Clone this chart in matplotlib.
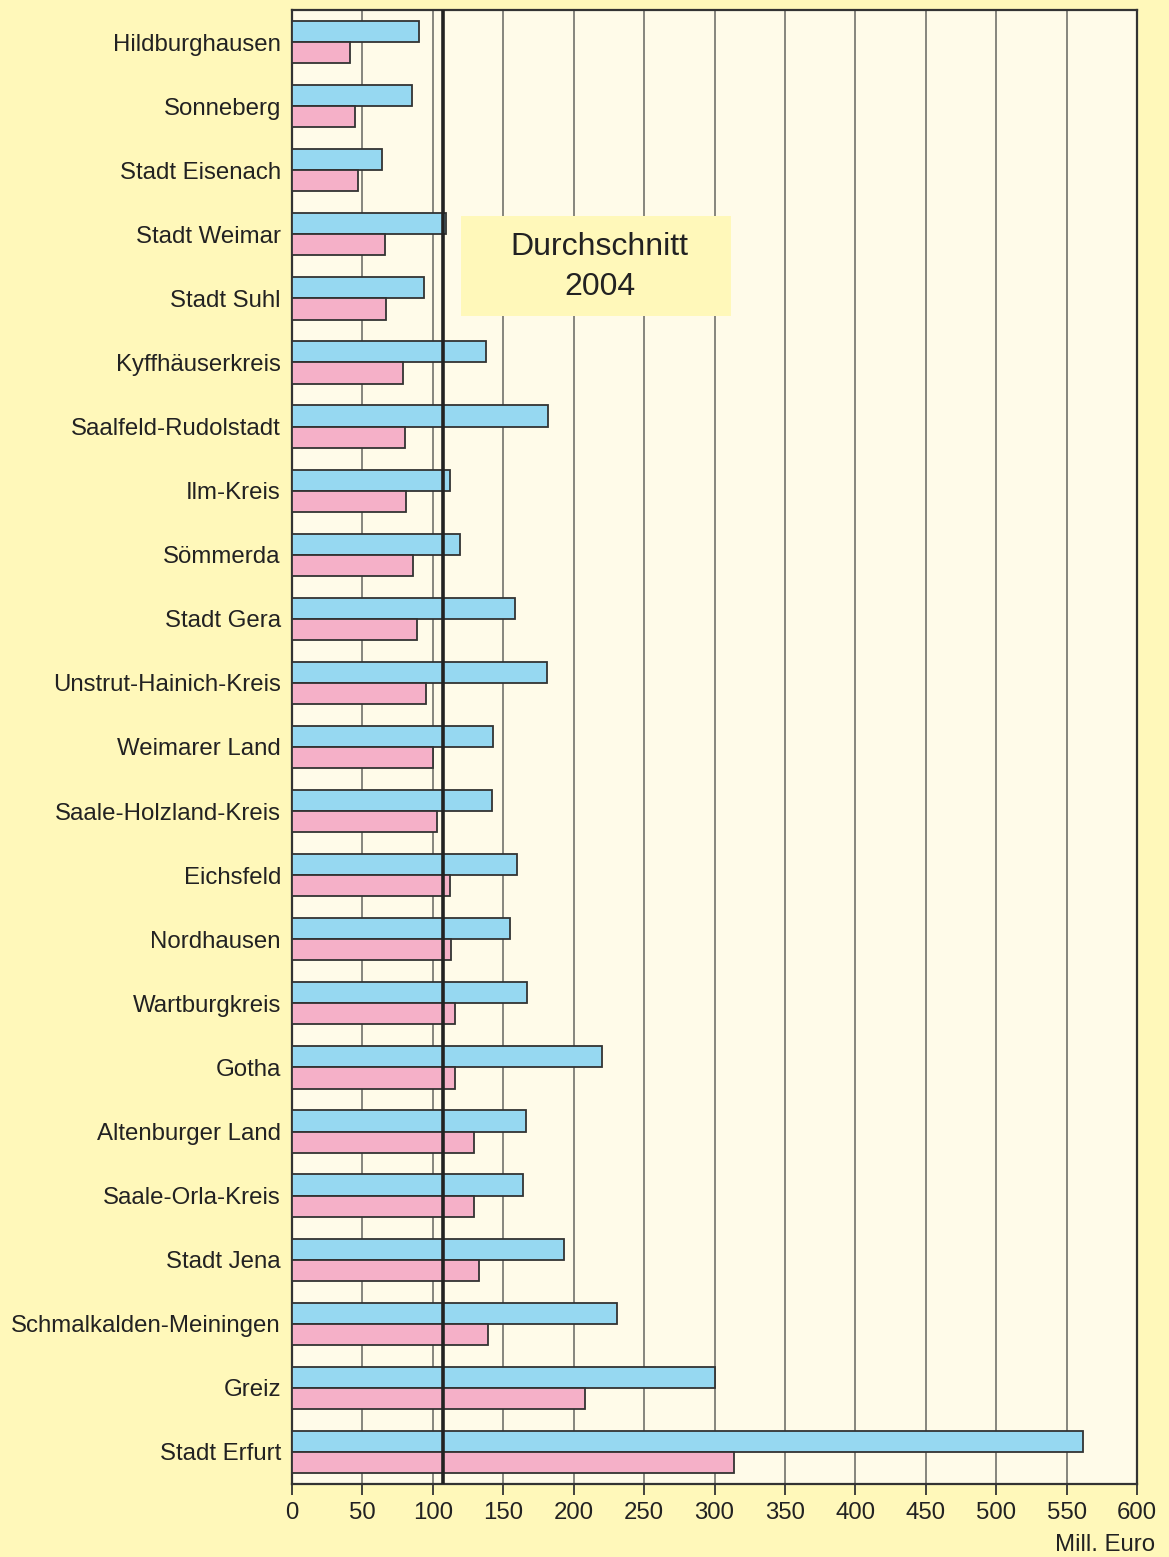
import numpy as np
import matplotlib
matplotlib.use("Agg")
from matplotlib import pyplot as plt
from matplotlib.patches import Rectangle

plt.rcParams['font.family'] = ['Liberation Sans', 'DejaVu Sans']

# Kreise / kreisfreie Staedte, oben nach unten
kreise = ["Hildburghausen", "Sonneberg", "Stadt Eisenach", "Stadt Weimar",
          "Stadt Suhl", "Kyffhäuserkreis", "Saalfeld-Rudolstadt", "Ilm-Kreis",
          "Sömmerda", "Stadt Gera", "Unstrut-Hainich-Kreis", "Weimarer Land",
          "Saale-Holzland-Kreis", "Eichsfeld", "Nordhausen", "Wartburgkreis",
          "Gotha", "Altenburger Land", "Saale-Orla-Kreis", "Stadt Jena",
          "Schmalkalden-Meiningen", "Greiz", "Stadt Erfurt"]
blau = [90, 85, 64, 109, 94, 138, 182, 112, 119, 158, 181, 143, 142,
        160, 155, 167, 220, 166, 164, 193, 231, 300, 562]
rosa = [41, 45, 47, 66, 67, 79, 80, 81, 86, 89, 95, 100, 103,
        112, 113, 116, 116, 129, 129, 133, 139, 208, 314]
durchschnitt = 107.5
xticks = list(range(0, 601, 50))

bg = "#fff8ba"
fig = plt.figure(figsize=(11.69, 15.57), dpi=100, facecolor=bg)
ax = fig.add_axes([292 / 1169, 1 - 1484 / 1557, 845 / 1169, 1474 / 1557])
ax.set_facecolor("#fffbe9")

y = np.arange(len(kreise))
h = 0.33
ax.barh(y - h / 2, blau, height=h, color="#96d8f1", edgecolor="#333333",
        linewidth=1.3, zorder=3)
ax.barh(y + h / 2, rosa, height=h, color="#f5b0c8", edgecolor="#333333",
        linewidth=1.3, zorder=3)

for xv in xticks[1:-1]:
    ax.axvline(xv, color="#666660", lw=1.1, zorder=1)
ax.axvline(durchschnitt, color="#222222", lw=2.6, zorder=4)

ax.add_patch(Rectangle((120, 2.72), 192, 1.55, facecolor=bg, edgecolor="none",
                       zorder=5))
ax.text(218.5, 3.51, "Durchschnitt\n2004", ha="center", va="center",
        fontsize=23, color="#222222", linespacing=1.45, zorder=6)

ax.set_xlim(0, 600)
ax.set_ylim(len(kreise) - 0.5, -0.5)
ax.set_yticks(y)
ax.set_yticklabels(kreise, fontsize=17.3, color="#222222")
ax.set_xticks(xticks)
ax.set_xticklabels([str(v) for v in xticks], fontsize=17.3, color="#222222")
ax.tick_params(axis="y", length=0, pad=8)
ax.tick_params(axis="x", length=8, width=1.3, color="#333333", pad=5,
               direction="out")
for s in ax.spines.values():
    s.set_color("#333333")
    s.set_linewidth(1.6)

fig.text(1155 / 1169, 1 - 1545 / 1557, "Mill. Euro", ha="right", va="center",
         fontsize=17.3, color="#222222")

fig.savefig("out.png", dpi=100, facecolor=bg)
